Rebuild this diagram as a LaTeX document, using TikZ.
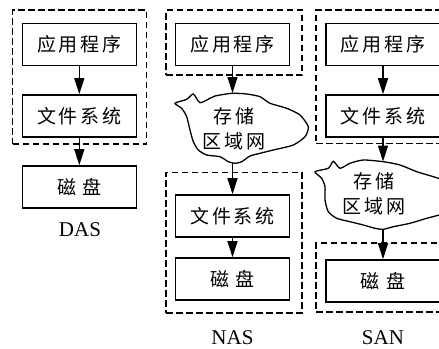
\documentclass[tikz,border=0pt]{standalone}
\usepackage{fontspec}
\setmainfont{Liberation Serif}
\newfontfamily\cjk{Noto Sans CJK SC}
\usetikzlibrary{arrows.meta}
\newcommand{\kk}{\hspace{2.8pt}}
\newcommand{\kw}{\hspace{6.5pt}}
\begin{document}
\begin{tikzpicture}[x=1pt,y=-1pt,
  box/.style={draw,line width=1.6pt,minimum width=114pt,minimum height=42pt,inner sep=0pt,font=\cjk\fontsize{19}{22}\selectfont},
  dbox/.style={draw,line width=1.3pt,dash pattern=on 6.5pt off 3.5pt,inner sep=0pt},
  arr/.style={line width=1.3pt,-{Triangle[width=10pt,length=16pt]}},
  cloudline/.style={line width=1.3pt,fill=white},
  cloudnode/.style={minimum width=100pt,inner sep=0pt},
  cloudtxt/.style={align=center,font=\cjk\fontsize{19}{25}\selectfont,inner sep=0pt},
  lbl/.style={font=\fontsize{21}{24}\selectfont,inner sep=0pt}]
\useasboundingbox (0,0) rectangle (439,348);
\fill[white] (0,0) rectangle (439,348);
\clip (0,0) rectangle (439,348);

% dashed enclosures
\node[dbox,minimum width=134pt,minimum height=134pt] (dout) at (79.7,77) {};
\node[dbox,minimum width=136pt,minimum height=65pt] (ntop) at (234,42.5) {};
\node[dbox,minimum width=136pt,minimum height=140.3pt] (nbot) at (234,242.8) {};
\node[dbox,minimum width=136pt,minimum height=133.5pt] (stop) at (384,76.75) {};
\node[dbox,minimum width=136pt,minimum height=69pt] (sbot) at (384,277.5) {};

% DAS
\node[box] (dapp) at (79.3,44.5) {应\kk 用\kk 程\kk 序};
\node[box] (dfs) at (79.3,116) {文\kk 件\kk 系\kk 统};
\node[box] (ddisk) at (79.3,187) {磁\kw 盘};
\node[lbl] (dlbl) at (80,230) {DAS};

% NAS
\node[box] (napp) at (232.5,44.5) {应\kk 用\kk 程\kk 序};
\draw[cloudline,shift={(232.5,128)}] plot[smooth cycle,tension=0.4] coordinates {
 (-57.5,-24.7) (-45.8,-28.7) (-39.2,-34) (-32.5,-25.3) (-22.5,-29.7) (-17.5,-32)
 (-0.8,-34.7) (14.2,-34) (27.5,-31.3) (37.5,-24.7) (54.2,-19.7) (67.5,-13)
 (75.8,-1.3) (72.5,8.7) (60.8,17) (40.8,22) (27.5,25.3) (17.5,28) (9.2,33.7)
 (2.5,35.3) (-4.2,33.7) (-12.5,28.7) (-25.8,27) (-34.2,22) (-39.2,13.7)
 (-42.5,2) (-45.8,-11.3) (-50.8,-19.7)};
\node[cloudnode,minimum height=70pt] (ncloud) at (232.5,128.2) {};
\node[cloudtxt] (ntxt) at (234,129) {存\kk 储\\区\kk 域\kk 网};
\node[box] (nfs) at (232.5,216) {文\kk 件\kk 系\kk 统};
\node[box] (ndisk) at (232.5,279) {磁\kw 盘};
\node[lbl] (nlbl) at (232.5,337.5) {NAS};

% SAN
\node[box] (sapp) at (383,44.5) {应\kk 用\kk 程\kk 序};
\node[box] (sfs) at (383,116) {文\kk 件\kk 系\kk 统};
\draw[cloudline,shift={(383,194.5)}] plot[smooth cycle,tension=0.4] coordinates {
 (-68,-22.8) (-54.7,-26.2) (-49.7,-33.2) (-43,-26.2) (-33,-31.2) (-19.7,-34.5)
 (0.3,-32.8) (17,-29.5) (33.7,-22.8) (50.3,-17.8) (67,-11.5) (75,2.5) (69,15.5)
 (56,20.5) (43.7,23.8) (27,28.8) (10.3,32.2) (0.3,34.8) (-8,33.8) (-19.7,30.5)
 (-33,27.2) (-46.3,23.8) (-54.7,17.2) (-58,5.5) (-58,-7.8) (-61.3,-16.2)};
\node[cloudnode,minimum height=67.6pt] (scloud) at (383,195.5) {};
\node[cloudtxt] (stxt) at (374,193.5) {存\kk 储\\区\kk 域\kk 网};
\node[box] (sdisk) at (383,281) {磁\kw 盘};
\node[lbl] (slbl) at (383,337.5) {SAN};

% connectors
\draw[arr] (dapp) -- (dfs);
\draw[arr] (dfs) -- (ddisk);
\draw[arr] (napp) -- (ncloud);
\draw[arr] (ncloud) -- (nfs);
\draw[arr] (nfs) -- (ndisk);
\draw[arr] (sapp) -- (sfs);
\draw[arr] (sfs) -- (scloud);
\draw[arr] (scloud) -- (sdisk);
\end{tikzpicture}
\end{document}
